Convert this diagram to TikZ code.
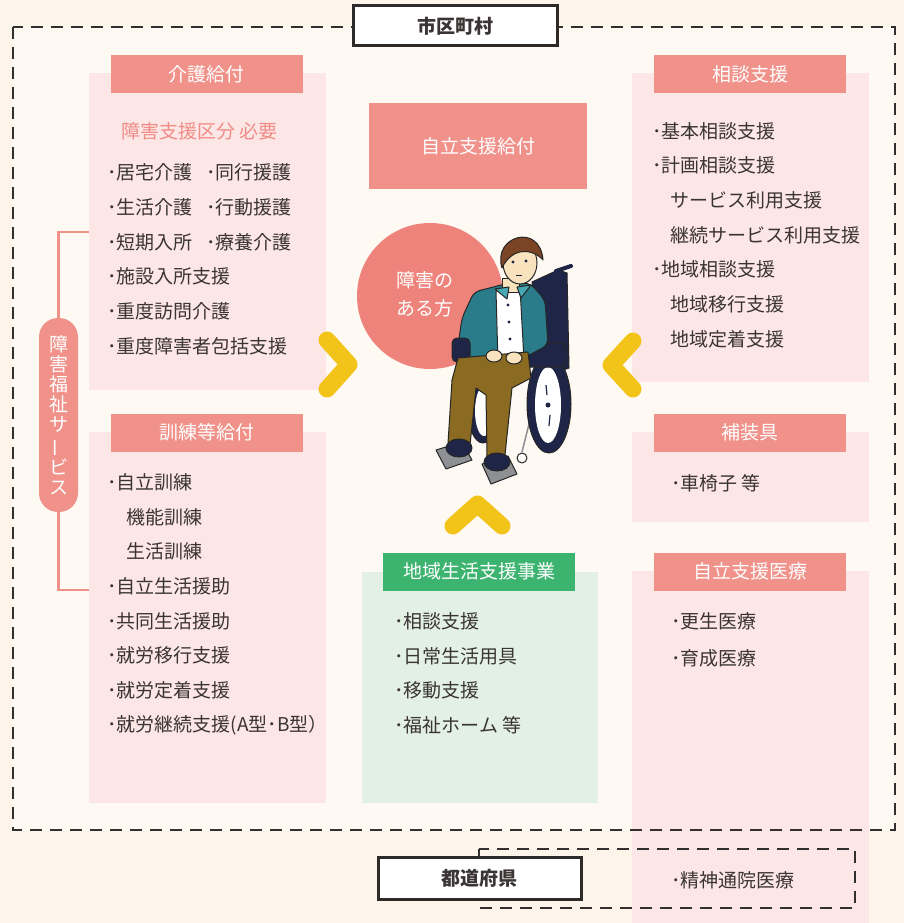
\documentclass[tikz,border=0pt]{standalone}
\usepackage{fontspec}
\setmainfont{Noto Sans CJK JP}
\usetikzlibrary{positioning}

\definecolor{bgout}{HTML}{FDF5E9}
\definecolor{bgin}{HTML}{FFF9F3}
\definecolor{panelpink}{HTML}{FDE7E6}
\definecolor{panelgreen}{HTML}{E3F1E4}
\definecolor{headred}{HTML}{F0918A}
\definecolor{headgreen}{HTML}{3DB370}
\definecolor{circred}{HTML}{EE837B}
\definecolor{chevy}{HTML}{F2C318}
\definecolor{txtgray}{HTML}{3A3434}
\definecolor{pinktxt}{HTML}{F08B85}
\definecolor{navy}{HTML}{1E2547}
\definecolor{teal}{HTML}{2B7C8B}
\definecolor{tealhi}{HTML}{46A9B5}
\definecolor{pants}{HTML}{8B6A22}
\definecolor{skin}{HTML}{F8E3BE}
\definecolor{hair}{HTML}{7A4425}
\definecolor{steel}{HTML}{8E9094}

\newcommand\itemfont{\fontsize{19pt}{22pt}\selectfont}

\tikzset{
  itm/.style = {anchor=west, inner sep=0pt, text=txtgray, font=\itemfont},
  hd_r/.style = {fill=headred, text=white, font=\itemfont, inner sep=0pt, minimum width=192pt, minimum height=38pt},
  hd_g/.style = {hd_r, fill=headgreen},
  govbox/.style = {draw=txtgray!80!black, line width=3pt, fill=white, text=txtgray, font=\itemfont\bfseries, inner sep=0pt},
  dashline/.style = {draw=txtgray!90!black, line width=1.4pt, dash pattern=on 12pt off 8pt},
  chev/.style = {draw=chevy, line width=17pt, line cap=round, line join=round},
  fig/.style = {draw=black!85, line width=1pt, line join=round}
}

\begin{document}
\begin{tikzpicture}[x=1pt, y=-1pt]
  % page and inner area
  \fill[bgout] (0,0) rectangle (904,923);
  \useasboundingbox (0,0) rectangle (904,923);
  \fill[bgin] (13,27) rectangle (895,830);

  % panels
  \fill[panelpink] (89,73) rectangle (326,390);
  \fill[panelpink] (89,432) rectangle (326,803);
  \fill[panelpink] (632,73) rectangle (869,382);
  \fill[panelpink] (632,432) rectangle (869,522);
  \fill[panelpink] (632,571) rectangle (869,923);
  \fill[panelgreen] (362,572) rectangle (598,803);

  % dashed frames
  \draw[dashline] (13,27) rectangle (895,830);
  \draw[dashline] (479,849) rectangle (855,908);

  % municipality / prefecture
  \node[govbox, minimum width=204pt, minimum height=40pt] (shiku) at (455,26) {市区町村};
  \node[govbox, minimum width=203pt, minimum height=42pt] (todou) at (479.5,878.5) {都道府県};

  % headers
  \node[hd_r] (kaigo) at (206.5,74) {介護給付};
  \node[hd_r] (kunren) at (206.5,432.5) {訓練等給付};
  \node[hd_r] (soudan) at (750,74) {相談支援};
  \node[hd_r] (hosougu) at (750,432.5) {補装具};
  \node[hd_r] (iryou) at (750,571.5) {自立支援医療};
  \node[hd_g] (chiiki) at (479,571.5) {地域生活支援事業};
  \node[hd_r, minimum width=218pt, minimum height=86pt] (jiritsu) at (478,146) {自立支援給付};

  % bracket + vertical label
  \draw[headred, line width=2.5pt] (89,232) -| (58.5,590) -- (89,590);
  \node[fill=headred, text=white, font=\fontsize{19pt}{20.2pt}\selectfont, align=center,
        minimum width=39pt, minimum height=194pt, rounded corners=19pt, inner sep=0pt]
        (fukushi) at (58.5,415)
        {障\\害\\福\\祉\\サ\\\rotatebox[origin=c]{90}{ー}\\ビ\\ス};

  % 介護給付
  \node[itm, text=pinktxt] (kubun) at (121,131) {障害支援区分 必要};
  \node[itm] (k1) at (107,172) {･居宅介護};
  \node[itm] (k2) at (206,172) {･同行援護};
  \node[itm] (k3) at (107,207) {･生活介護};
  \node[itm] (k4) at (206,207) {･行動援護};
  \node[itm] (k5) at (107,242) {･短期入所};
  \node[itm] (k6) at (206,242) {･療養介護};
  \node[itm] (k7) at (107,276) {･施設入所支援};
  \node[itm] (k8) at (107,311) {･重度訪問介護};
  \node[itm] (k9) at (107,346) {･重度障害者包括支援};

  % 訓練等給付
  \node[itm] (t1) at (107,482) {･自立訓練};
  \node[itm] (t2) at (126,517) {機能訓練};
  \node[itm] (t3) at (126,551) {生活訓練};
  \node[itm] (t4) at (107,586) {･自立生活援助};
  \node[itm] (t5) at (107,621) {･共同生活援助};
  \node[itm] (t6) at (107,655) {･就労移行支援};
  \node[itm] (t7) at (107,690) {･就労定着支援};
  \node[itm] (t8) at (107,725) {･就労継続支援(A型･B型）};

  % 相談支援
  \node[itm] (s1) at (652,131) {･基本相談支援};
  \node[itm] (s2) at (652,165) {･計画相談支援};
  \node[itm] (s3) at (670,200) {サービス利用支援};
  \node[itm] (s4) at (670,235) {継続サービス利用支援};
  \node[itm] (s5) at (652,269) {･地域相談支援};
  \node[itm] (s6) at (670,304) {地域移行支援};
  \node[itm] (s7) at (670,339) {地域定着支援};

  % 補装具, 医療
  \node[itm] (h1) at (671,483) {･車椅子 等};
  \node[itm] (m1) at (671,621) {･更生医療};
  \node[itm] (m2) at (671,658) {･育成医療};
  \node[itm] (m3) at (671,880) {･精神通院医療};

  % 地域生活支援事業
  \node[itm] (c1) at (394,621) {･相談支援};
  \node[itm] (c2) at (394,656) {･日常生活用具};
  \node[itm] (c3) at (394,690) {･移動支援};
  \node[itm] (c4) at (394,725) {･福祉ホーム 等};

  % person circle
  \node[circle, fill=circred, minimum size=146pt, inner sep=0pt] (hito) at (430,296) {};
  \node[text=white, font=\fontsize{19pt}{28pt}\selectfont, align=center, inner sep=0pt]
        (hitolbl) at (425,294) {障害の\\ある方};

  % chevrons
  \draw[chev] (327,340) -- (349,364.5) -- (327,389);
  \draw[chev] (633,341) -- (611,365) -- (633,389);
  \draw[chev] (453,526) -- (477.5,504) -- (502,526);

  % wheelchair
  \draw[fig, fill=navy] (532,282) -- (558,270) -- (567,273) -- (569,368) -- (540,378) -- cycle;
  \draw[navy, line width=4pt, line cap=round] (556,271) -- (571,266);
  \draw[fig, fill=navy] (483,410) ellipse[x radius=15pt, y radius=33pt];
  \fill[white] (484,411) ellipse[x radius=9pt, y radius=25pt];
  \draw[steel, line width=1.5pt] (530,420) -- (522,452);
  \draw[fig, fill=navy] (549,404) ellipse[x radius=22pt, y radius=49pt];
  \fill[white] (548,405) ellipse[x radius=13pt, y radius=38pt];
  \fill[navy] (548,405) circle[radius=2.5pt];
  \draw[navy, line width=1.2pt] (546,385) -- (547,395) (550,415) -- (549,426);
  \draw[fig, fill=white] (522,458) circle[radius=5pt];
  \draw[fig, fill=navy, rounded corners=6pt] (522,343) rectangle (566,367);

  % person
  \draw[fig, fill=teal, rounded corners=6pt] (474,292) -- (505,284) -- (530,283) -- (545,300)
        -- (548,345) -- (520,360) -- (480,362) -- (456,360) -- (462,318) -- cycle;
  \draw[fig, fill=white] (496,291) -- (520,288) -- (524,360) -- (498,363) -- cycle;
  \fill[navy] (508,305) circle[radius=1.6pt] (509,322) circle[radius=1.6pt] (510,339) circle[radius=1.6pt];
  \draw[fig, fill=skin] (502,278) rectangle (519,292);
  \draw[fig, fill=tealhi] (495,289) -- (507,299) -- (509,287) -- cycle;
  \draw[fig, fill=tealhi] (517,287) -- (521,298) -- (531,285) -- cycle;
  \draw[fig, fill=skin] (520,263) ellipse[x radius=17pt, y radius=21pt];
  \draw[fig, fill=hair] (502,268) .. controls (492,236) and (540,222) .. (543,260)
        .. controls (532,248) and (512,247) .. (502,268);
  \fill[navy] (513,262) circle[radius=1.6pt] (526,261) circle[radius=1.6pt];
  \draw[navy, line width=1pt] (516,275) -- (522,275);
  \draw[fig, fill=navy, rounded corners=5pt] (452,338) rectangle (470,362);
  \draw[fig, fill=pants] (458,358) -- (528,352) -- (531,378) -- (512,388) -- (505,455)
        -- (487,457) -- (486,395) -- (476,388) -- (470,445) -- (448,443) -- (452,380) -- cycle;
  \draw[fig, fill=skin] (494,356) ellipse[x radius=8pt, y radius=6pt];
  \draw[fig, fill=skin] (514,358) ellipse[x radius=8pt, y radius=6pt];
  \draw[fig, fill=steel] (436,450) -- (462,442) -- (472,460) -- (446,469) -- cycle;
  \draw[fig, fill=steel] (482,464) -- (508,456) -- (517,474) -- (491,484) -- cycle;
  \draw[fig, fill=navy] (459,448) ellipse[x radius=13pt, y radius=9pt];
  \draw[fig, fill=navy] (497,462) ellipse[x radius=13pt, y radius=9pt];
\end{tikzpicture}
\end{document}
